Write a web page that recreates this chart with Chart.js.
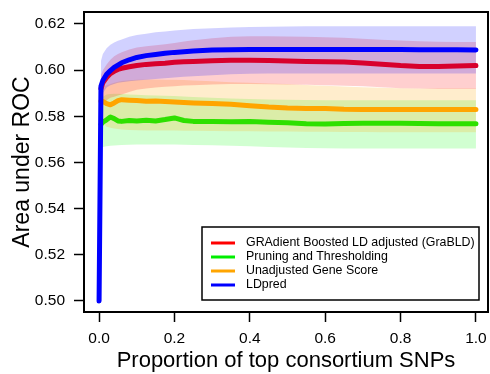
<!DOCTYPE html>
<html>
<head>
<meta charset="utf-8">
<script src="https://cdn.jsdelivr.net/npm/chart.js@4.4.1/dist/chart.umd.min.js"></script>
<style>
  html, body { margin: 0; padding: 0; background: #fff; }
  #wrap { width: 490px; height: 374px; position: relative; }
</style>
</head>
<body>
<div id="wrap"><canvas id="auc"></canvas></div>
<script>
// proportion of top consortium SNPs
var xs = [0, 0.005, 0.01, 0.02, 0.03, 0.04, 0.05, 0.06, 0.08, 0.10, 0.125, 0.15, 0.175, 0.20, 0.225, 0.25,
          0.30, 0.35, 0.40, 0.45, 0.50, 0.55, 0.60, 0.65, 0.70, 0.75, 0.80, 0.85, 0.90, 0.95, 1.00];

var ldpred   = [0.500, .5930, .5955, .5982, .5998, .6012, .6022, .6032, .6045, .6055, .6063, .6068, .6073, .6077, .6080, .6083,
                .6087, .6088, .6089, .6089, .6089, .6089, .6089, .6089, .6089, .6089, .6089, .6088, .6088, .6088, .6087];
var ldpredHi = [null, .6040, .6070, .6095, .6110, .6120, .6127, .6133, .6145, .6152, .6158, .6164, .6168, .6172, .6175, .6178,
                .6182, .6185, .6187, .6188, .6189, .6190, .6190, .6190, .6190, .6190, .6190, .6190, .6190, .6190, .6190];
var ldpredLo = [null, .5880, .5900, .5925, .5935, .5940, .5945, .5948, .5952, .5955, .5958, .5962, .5965, .5968, .5971, .5974,
                .5978, .5982, .5984, .5985, .5985, .5985, .5985, .5985, .5985, .5985, .5985, .5985, .5985, .5985, .5985];

var grabld   = [null, .5920, .5945, .5968, .5985, .5995, .6003, .6008, .6015, .6020, .6025, .6028, .6030, .6034, .6036, .6038,
                .6041, .6043, .6043, .6042, .6040, .6038, .6036, .6035, .6031, .6026, .6020, .6016, .6016, .6018, .6020];
var grabldHi = [null, .5980, .6000, .6025, .6045, .6060, .6070, .6078, .6090, .6098, .6104, .6108, .6112, .6118, .6124, .6130,
                .6138, .6145, .6147, .6147, .6146, .6145, .6143, .6140, .6136, .6132, .6128, .6125, .6123, .6122, .6122];
var grabldLo = [null, .5850, .5860, .5870, .5880, .5885, .5890, .5895, .5905, .5915, .5920, .5925, .5928, .5930, .5933, .5935,
                .5938, .5940, .5940, .5939, .5938, .5937, .5935, .5932, .5930, .5926, .5922, .5920, .5918, .5918, .5918];

var prune    = [null, .5765, .5775, .5785, .5797, .5790, .5780, .5778, .5782, .5780, .5783, .5780, .5786, .5793, .5782, .5778,
                .5777, .5776, .5777, .5774, .5772, .5768, .5767, .5769, .5770, .5770, .5770, .5769, .5768, .5768, .5768];
var pruneHi  = [null, .5875, .5885, .5895, .5897, .5898, .5898, .5897, .5895, .5893, .5891, .5890, .5889, .5888, .5886, .5884,
                .5880, .5877, .5875, .5873, .5872, .5871, .5870, .5870, .5870, .5870, .5870, .5870, .5870, .5870, .5870];
var pruneLo  = [null, .5665, .5667, .5670, .5672, .5673, .5675, .5676, .5677, .5678, .5678, .5678, .5678, .5678, .5677, .5676,
                .5675, .5672, .5670, .5667, .5665, .5663, .5662, .5661, .5660, .5660, .5660, .5660, .5660, .5660, .5660];

var unadj    = [null, .5866, .5865, .5855, .5850, .5858, .5868, .5872, .5870, .5868, .5865, .5866, .5864, .5862, .5860, .5858,
                .5855, .5852, .5846, .5840, .5836, .5834, .5834, .5831, .5830, .5830, .5829, .5829, .5829, .5830, .5830];
var unadjHi  = [null, .5920, .5928, .5935, .5940, .5945, .5950, .5953, .5956, .5958, .5959, .5959, .5958, .5958, .5957, .5955,
                .5952, .5948, .5945, .5942, .5940, .5936, .5932, .5929, .5926, .5924, .5922, .5921, .5920, .5920, .5920];
var unadjLo  = [null, .5780, .5770, .5755, .5750, .5747, .5745, .5743, .5741, .5740, .5739, .5738, .5738, .5738, .5737, .5737,
                .5736, .5735, .5735, .5734, .5734, .5733, .5733, .5732, .5732, .5731, .5731, .5731, .5731, .5731, .5731];

var xTicks = [0, 0.2, 0.4, 0.6, 0.8, 1.0];
var yTicks = [0.50, 0.52, 0.54, 0.56, 0.58, 0.60, 0.62];

var labels = ['GRAdient Boosted LD adjusted (GraBLD)', 'Pruning and Thresholding', 'Unadjusted Gene Score', 'LDpred'];
var legendColors = ['#ff0000', '#00ee00', '#ffa500', '#0000ff'];

var FONT = '"Liberation Sans", Arial, Helvetica, sans-serif';

function pts(arr) {
  var out = [];
  for (var i = 0; i < xs.length; i++) out.push({x: xs[i], y: arr[i]});
  return out;
}

function line(label, arr, color, order) {
  return {label: label, data: pts(arr), borderColor: color, borderWidth: 5, pointRadius: 0,
          borderCapStyle: 'round', borderJoinStyle: 'round', fill: false, order: order, tension: 0};
}
function edge(arr, fillTo, color) {
  return {data: pts(arr), borderWidth: 0, borderColor: 'rgba(0,0,0,0)', pointRadius: 0, order: 10, tension: 0,
          fill: fillTo == null ? false : {target: fillTo}, backgroundColor: color};
}

var datasets = [
  line('LDpred', ldpred, '#0000ff', 0),
  line('GraBLD', grabld, '#d8002c', 1),
  line('Prune', prune, '#2ee000', 2),
  line('Unadj', unadj, '#ffa500', 3),
  edge(ldpredLo, null), edge(ldpredHi, 4, 'rgba(0,0,255,0.18)'),
  edge(grabldLo, null), edge(grabldHi, 6, 'rgba(255,0,0,0.19)'),
  edge(unadjLo, null),  edge(unadjHi, 8, 'rgba(255,165,0,0.2)'),
  edge(pruneLo, null),  edge(pruneHi, 10, 'rgba(0,255,0,0.18)')
];

// box around plot region + legend inside bottom right
var boxPlugin = {
  id: 'boxAndLegend',
  afterDraw: function(c) {
    var a = c.chartArea, ctx = c.ctx;
    ctx.save();
    ctx.strokeStyle = '#000';
    ctx.lineWidth = 2;
    ctx.strokeRect(a.left, a.top, a.right - a.left, a.bottom - a.top);

    var bw = 277, bh = 73;
    var bx = a.right - 9 - bw, by = a.bottom - 12 - bh;
    ctx.fillStyle = '#fff';
    ctx.fillRect(bx, by, bw, bh);
    ctx.lineWidth = 1.5;
    ctx.strokeRect(bx, by, bw, bh);
    ctx.font = '12.4px ' + FONT;
    ctx.textBaseline = 'middle';
    ctx.textAlign = 'left';
    for (var i = 0; i < labels.length; i++) {
      var yy = by + 16 + i * 14;
      ctx.strokeStyle = legendColors[i];
      ctx.lineWidth = 3;
      ctx.beginPath(); ctx.moveTo(bx + 9, yy); ctx.lineTo(bx + 33, yy); ctx.stroke();
      ctx.fillStyle = '#000';
      ctx.fillText(labels[i], bx + 44, yy);
    }
    ctx.restore();
  }
};

new Chart(document.getElementById('auc'), {
  type: 'line',
  data: {datasets: datasets},
  plugins: [boxPlugin],
  options: {
    responsive: true, maintainAspectRatio: false, animation: false,
    layout: {padding: {top: 12, right: 2, left: 0, bottom: 0}},
    plugins: {legend: {display: false}, tooltip: {enabled: false}},
    scales: {
      x: {
        type: 'linear', min: -0.04, max: 1.032,
        afterBuildTicks: function(s) { s.ticks = xTicks.map(function(v){ return {value: v}; }); },
        afterFit: function(s) { s.height = 62; s.paddingLeft = 0; s.paddingRight = 0; },
        grid: {drawOnChartArea: false, drawTicks: true, tickLength: 10, tickColor: '#000', tickWidth: 1.5},
        border: {display: false},
        ticks: {color: '#000', padding: 7, maxRotation: 0, font: {size: 15.5, family: FONT},
                callback: function(v){ return Number(v).toFixed(1); }},
        title: {display: true, text: 'Proportion of top consortium SNPs', color: '#000',
                font: {size: 22, family: FONT}, padding: {top: 1, bottom: 0}}
      },
      y: {
        type: 'linear', min: 0.4952, max: 0.6252,
        afterBuildTicks: function(s) { s.ticks = yTicks.map(function(v){ return {value: v}; }); },
        afterFit: function(s) { s.width = 84; s.paddingTop = 0; s.paddingBottom = 0; },
        grid: {drawOnChartArea: false, drawTicks: true, tickLength: 10, tickColor: '#000', tickWidth: 1.5},
        border: {display: false},
        ticks: {color: '#000', padding: 9, font: {size: 15.5, family: FONT},
                callback: function(v){ return Number(v).toFixed(2); }},
        title: {display: true, text: 'Area under ROC', color: '#000',
                font: {size: 23, family: FONT}, padding: {top: 9, bottom: 0}}
      }
    }
  }
});
</script>
</body>
</html>
